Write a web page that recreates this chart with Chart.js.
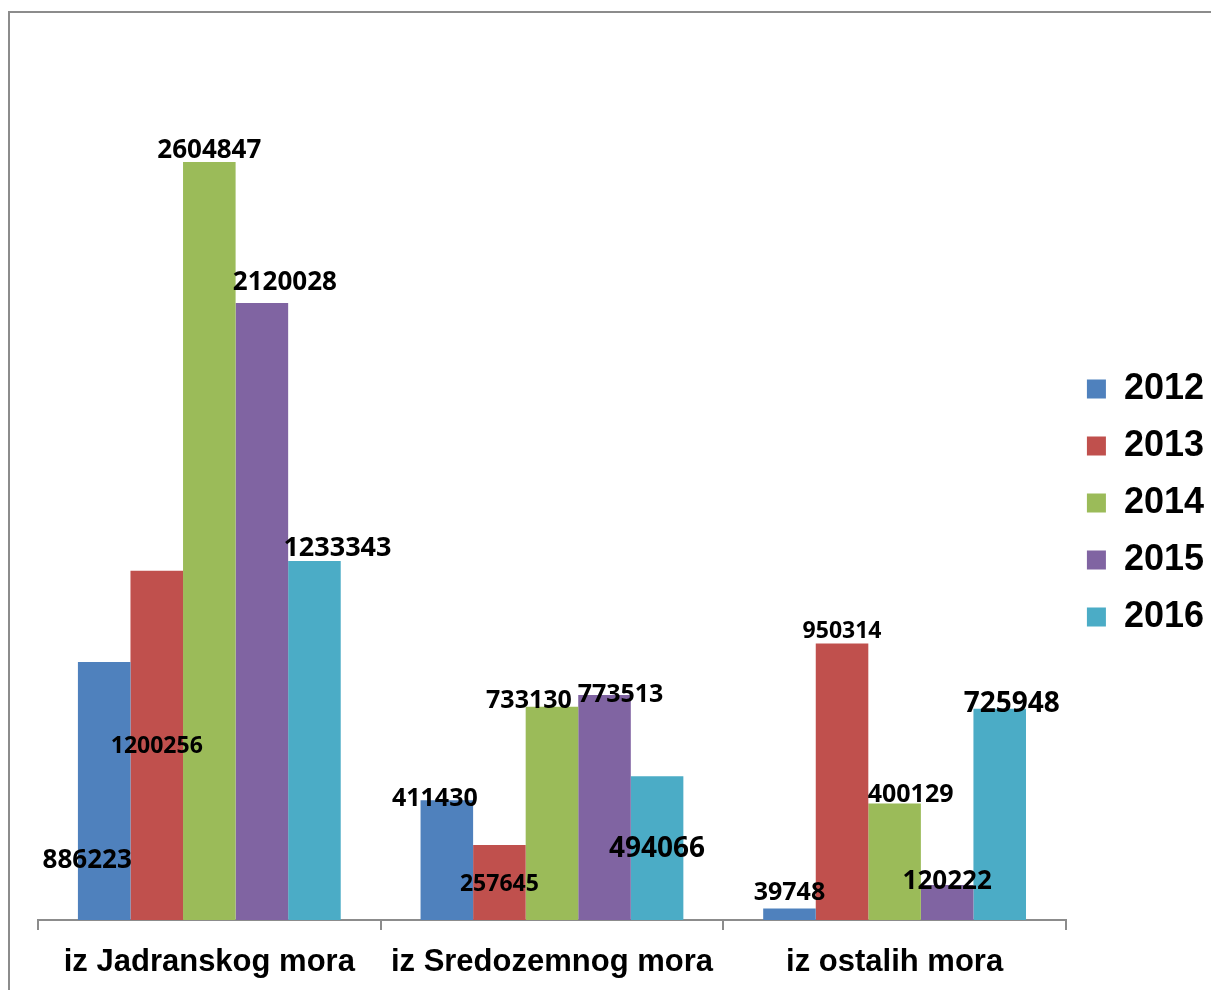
<!DOCTYPE html>
<html><head><meta charset="utf-8">
<script src="https://cdn.jsdelivr.net/npm/chart.js@4/dist/chart.umd.min.js"></script>
<style>
html,body{margin:0;padding:0;background:#fff;overflow:hidden;width:1211px;height:990px;}
#frame{position:absolute;left:8px;top:11px;width:1300px;height:1100px;border:2px solid #8c8c8c;box-sizing:border-box;}
#wrap{position:absolute;left:0;top:0;width:1211px;height:990px;}
</style></head><body>
<div id="frame"></div>
<div id="wrap"><canvas id="c" width="1211" height="990"></canvas></div>
<script>
const categories = ['iz Jadranskog mora', 'iz Sredozemnog mora', 'iz ostalih mora'];
const years = ['2012', '2013', '2014', '2015', '2016'];
const v2012 = [886223, 411430, 39748];
const v2013 = [1200256, 257645, 950314];
const v2014 = [2604847, 733130, 400129];
const v2015 = [2120028, 773513, 120222];
const v2016 = [1233343, 494066, 725948];
const yMin = 0;
const yMax = 3000000;

// label placement (offset from bar top centre) and sizes, per series
const labelDx = [[-17, -12, 0], [0, 0, 0], [0, -23, 16], [23, 16, 0], [23, 0, 12]];
const labelDy = [[198, -1, -16], [176, 39, -12], [-11, -6, -9], [-20, 0, -3], [-13, 73, -5]];
const labelSize = [[26, 25, 25], [23, 23, 23], [26, 25, 25], [26, 25, 26], [27, 28, 28]];
const colors = ['#4F81BD', '#C0504D', '#9BBB59', '#8064A2', '#4BACC6'];

const seriesValues = [v2012, v2013, v2014, v2015, v2016];
const datasets = years.map((y, i) => ({
  label: y,
  data: seriesValues[i],
  backgroundColor: colors[i],
  borderWidth: 0,
  categoryPercentage: 0.767,
  barPercentage: 1.0
}));

const labelPlugin = {
  id: 'valueLabels',
  afterDatasetsDraw(chart) {
    const ctx = chart.ctx;
    chart.data.datasets.forEach((ds, di) => {
      const meta = chart.getDatasetMeta(di);
      meta.data.forEach((bar, i) => {
        ctx.save();
        ctx.font = 'bold ' + labelSize[di][i] + 'px "Open Sans"';
        ctx.fillStyle = '#000';
        ctx.textAlign = 'center';
        ctx.textBaseline = 'middle';
        ctx.fillText(String(ds.data[i]), bar.x + labelDx[di][i], bar.y + labelDy[di][i]);
        ctx.restore();
      });
    });
  }
};

const chart = new Chart(document.getElementById('c'), {
  type: 'bar',
  data: { labels: categories, datasets: datasets },
  plugins: [labelPlugin],
  options: {
    responsive: false,
    animation: false,
    devicePixelRatio: 1,
    layout: { padding: { left: 38, top: 47, right: -3, bottom: -5.2 } },
    plugins: {
      tooltip: { enabled: false },
      legend: {
        position: 'right',
        align: 'start',
        title: { display: true, text: ' ', font: { size: 10, lineHeight: 1 }, padding: { top: 0, bottom: 293 } },
        labels: {
          color: '#000',
          font: { family: '"Liberation Sans", Arial, sans-serif', size: 36, weight: 'bold' },
          boxWidth: 19, boxHeight: 19, padding: 21
        }
      }
    },
    scales: {
      x: {
        grid: { display: true, drawOnChartArea: false, drawTicks: true, tickLength: 10, color: '#8c8c8c', lineWidth: 2 },
        border: { display: true, color: '#8c8c8c', width: 2 },
        ticks: { color: '#000', padding: 14, font: { family: '"Liberation Sans", Arial, sans-serif', size: 31, weight: 'bold' } }
      },
      y: { display: false, min: yMin, max: yMax }
    }
  }
});
</script>
</body></html>
